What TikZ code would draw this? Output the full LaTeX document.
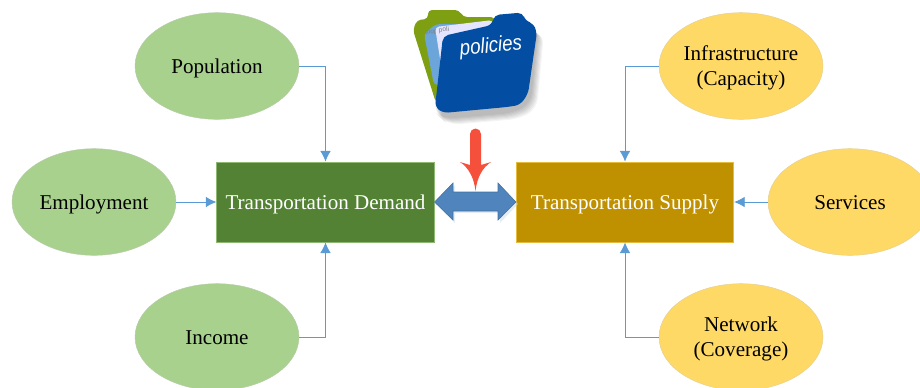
\documentclass[tikz,border=0pt]{standalone}
\usepackage{fontspec}
\setmainfont{Liberation Serif}
\newfontfamily\folderfont{Liberation Sans}
\usepackage{xcolor}
\usetikzlibrary{arrows.meta}
\usetikzlibrary{shapes.geometric}
\definecolor{dg}{HTML}{A9D18E}
\definecolor{dgb}{HTML}{548235}
\definecolor{sy}{HTML}{FFD966}
\definecolor{syb}{HTML}{BF9000}
\definecolor{conn}{HTML}{5B9BD5}
\definecolor{blu}{HTML}{4F85BC}
\definecolor{rd}{HTML}{F4503C}
\definecolor{fb}{HTML}{034EA2}
\definecolor{fg}{HTML}{7F9F12}
\tikzset{
    demand/.style={ellipse, fill=dg, draw=dg!80!black!60, line width=0.3pt, minimum width=123pt, minimum height=80pt, align=center, inner sep=0pt, text height=10.5pt, text depth=0pt, font=\fontsize{15.8}{18.7}\selectfont},
    supply/.style={ellipse, fill=sy, draw=sy!80!black!60, line width=0.3pt, minimum width=123pt, minimum height=80pt, align=center, inner sep=0pt, text height=10.5pt, text depth=0pt, font=\fontsize{15.8}{18.7}\selectfont},
    twolines/.style={text height=29pt},
    core/.style={rectangle, text=white, minimum width=163pt, minimum height=60pt, inner sep=0pt, line width=0.6pt, text height=10.5pt, text depth=0pt, font=\fontsize{15.8}{18.7}\selectfont},
    link/.style={draw=conn, line width=0.7pt, -{Latex[length=8pt,width=8pt]}}
}
\begin{document}
\begin{tikzpicture}[x=0.75pt, y=-0.75pt]
    \useasboundingbox (0,0) rectangle (920,387);
    \begin{scope}
        \clip (0,0) rectangle (920,387);
        \node[demand] (pop) at (217,66) {Population};
        \node[demand] (emp) at (94,202) {Employment};
        \node[demand] (inc) at (217,337) {Income};
        \node[supply, twolines] (infra) at (741,66) {Infrastructure\\(Capacity)};
        \node[supply] (serv) at (850,202) {Services};
        \node[supply, twolines] (net) at (741,337) {Network\\(Coverage)};
    \end{scope}
    \node[core, fill=dgb, draw=dg!70!dgb] (dem) at (325.5,202) {Transportation Demand};
    \node[core, fill=syb, draw=sy!60!syb] (sup) at (625,202) {Transportation Supply};
    % links
    \draw[link] (pop.east) -| (dem.north);
    \draw[link] (emp.east) -- (dem.west);
    \draw[link] (inc.east) -| (dem.south);
    \draw[link] (infra.west) -| (sup.north);
    \draw[link] (serv.west) -- (sup.east);
    \draw[link] (net.west) -| (sup.south);
    % double arrow
    \fill[blu!30, opacity=0.5] (436,204) -- (455,185) -- (455,195) -- (500,195) -- (500,185) -- (518,204) -- (500,223) -- (500,213) -- (455,213) -- (455,223) -- cycle;
    \draw[fill=blu, draw=blu!85!black, line width=0.4pt] (dem.east) -- (453,183) -- (453,192) -- (498,192) -- (498,183) -- (sup.west) -- (498,220) -- (498,211) -- (453,211) -- (453,220) -- cycle;
    % red arrow
    \fill[rd] (470,134) arc (180:360:5.5) -- (481,165) -- (491,162) .. controls (482,168) and (477,178) .. (475.5,191) .. controls (474,178) and (469,168) .. (460,162) -- (470,165) -- cycle;
    % folder shadow
    \foreach \i in {1,...,7}{
        \fill[black, opacity=0.045, rounded corners=8pt, shift={(\i,2+\i)}] (447,33) -- (537,24) -- (530,100) -- (512,110) -- (442,116) -- (432,108) -- cycle;
    }
    % folder back
    \fill[fg, rounded corners=3pt] (428,10) -- (459,10) -- (463,17) -- (495,17) -- (490,60) -- (436,103) -- (413,30) -- (417,20) -- (428,19) -- cycle;
    % sheets
    \fill[conn!90!white, rounded corners=3pt] (424,34) -- (436,24) -- (470,24) -- (450,85) -- (434,85) -- cycle;
    \fill[blue!10!white, rounded corners=3pt] (435,27) -- (493,20) -- (490,60) -- (445,90) -- cycle;
    \node[gray, font=\folderfont\fontsize{5}{5}\selectfont, rotate=-8, inner sep=0pt] (polb) at (431,32) {pol};
    \node[gray, font=\folderfont\fontsize{5}{5}\selectfont, rotate=5, inner sep=0pt] (pola) at (444,30) {poli};
    % folder front
    \fill[fb, rounded corners=4pt] (443,36) -- (492,25) -- (494,15) -- (523,12.5) -- (525,21) -- (533,23) -- (537,32) -- (528,94) -- (520,105) -- (507,107) -- (443,113) -- (435,107) -- cycle;
    \node[text=white, font=\folderfont\itshape\fontsize{14}{16}\selectfont, rotate=5, yscale=1.15, inner sep=0pt] (pol) at (491,47) {policies};
\end{tikzpicture}
\end{document}
